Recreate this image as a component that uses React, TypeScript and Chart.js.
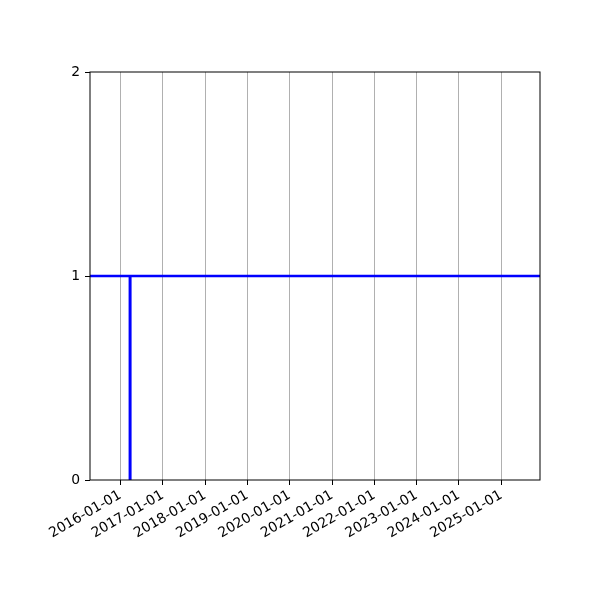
import { useEffect, useRef } from "react"
import Chart from "chart.js/auto"

// data (dates as YYYY-MM-DD)
const xRange = ["2015-04-14", "2025-12-01"]
const levelX = ["2015-04-14", "2025-12-01"]
const levelY = [1, 1]
const jumpX = ["2016-03-25", "2016-03-25"]
const jumpY = [0, 1]
const yearTicks = [2016, 2017, 2018, 2019, 2020, 2021, 2022, 2023, 2024, 2025]
const yTicks = [0, 1, 2]

const toMs = (s: string) => {
  const [y, m, d] = s.split("-").map(Number)
  return Date.UTC(y, m - 1, d)
}

const pad = (n: number) => String(n).padStart(2, "0")
const fmt = (ms: number) => {
  const d = new Date(ms)
  return `${d.getUTCFullYear()}-${pad(d.getUTCMonth() + 1)}-${pad(d.getUTCDate())}`
}

const frame = {
  id: "frame",
  afterDraw(chart: any) {
    const { ctx, chartArea: a } = chart
    ctx.save()
    ctx.strokeStyle = "#000"
    ctx.lineWidth = 1
    ctx.strokeRect(a.left, a.top, a.right - a.left, a.bottom - a.top)
    ctx.restore()
  },
}

export default function App() {
  const ref = useRef<HTMLCanvasElement>(null)
  const chartRef = useRef<Chart | null>(null)

  useEffect(() => {
    if (!ref.current) return
    if (chartRef.current) chartRef.current.destroy()

    const font = { family: "'DejaVu Sans', sans-serif", size: 13.9 }

    chartRef.current = new Chart(ref.current, {
      type: "line",
      data: {
        datasets: [
          {
            data: levelX.map((x, i) => ({ x: toMs(x), y: levelY[i] })),
            borderColor: "#0000ff",
            borderWidth: 2.5,
            pointRadius: 0,
            tension: 0,
          },
          {
            data: jumpX.map((x, i) => ({ x: toMs(x), y: jumpY[i] })),
            borderColor: "#0000ff",
            borderWidth: 3,
            pointRadius: 0,
            tension: 0,
          },
        ],
      },
      options: {
        animation: false,
        responsive: false,
        layout: { padding: { left: 0, right: 60, top: 72, bottom: 0 } },
        plugins: { legend: { display: false }, tooltip: { enabled: false } },
        scales: {
          x: {
            type: "linear",
            min: toMs(xRange[0]),
            max: toMs(xRange[1]),
            afterBuildTicks: (s: any) => {
              s.ticks = yearTicks.map((y) => ({ value: Date.UTC(y, 0, 1) }))
            },
            afterFit: (s: any) => { s.height = 120 },
            border: { display: false },
            grid: {
              color: "#b0b0b0",
              lineWidth: 1,
              tickColor: "#000",
              tickLength: 5,
            },
            ticks: {
              color: "#000",
              font,
              padding: 2,
              autoSkip: false,
              minRotation: 30,
              maxRotation: 30,
              callback: (v: any) => fmt(Number(v)),
            },
          },
          y: {
            min: 0,
            max: 2,
            afterBuildTicks: (s: any) => {
              s.ticks = yTicks.map((v) => ({ value: v }))
            },
            afterFit: (s: any) => { s.width = 90 },
            border: { display: false },
            grid: {
              drawOnChartArea: false,
              tickColor: "#000",
              tickLength: 5,
            },
            ticks: { color: "#000", font, padding: 5 },
          },
        },
      },
      plugins: [frame],
    })

    return () => { chartRef.current?.destroy() }
  }, [])

  return (
    <div style={{ position: "absolute", left: 0, top: 0, width: 600, height: 600, background: "#fff" }}>
      <canvas ref={ref} width={600} height={600} />
    </div>
  )
}
